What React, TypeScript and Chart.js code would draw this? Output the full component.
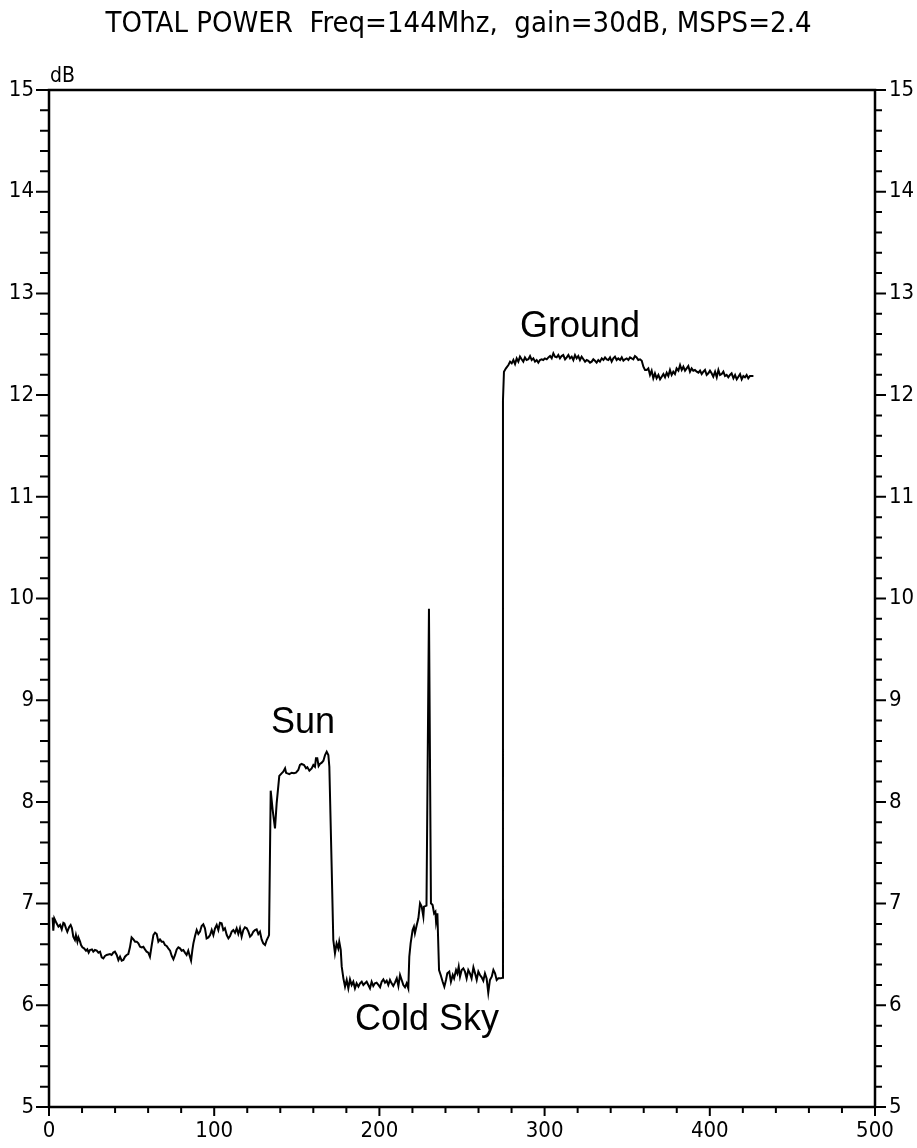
import React, { useEffect, useRef } from 'react';
import { Chart, registerables } from 'chart.js';

Chart.register(...registerables);

// ---- data: [scan position, power dB] ----
const quietSkyScan: [number, number][] = [
  [2.2, 6.865], [2.6, 6.734], [3.2, 6.855], [4.6, 6.806], [5.7, 6.773], [6.7, 6.79], [7.7, 6.747], [8.7, 6.812],
  [9.3, 6.806], [10.3, 6.757], [11.1, 6.724], [12.3, 6.773], [13.1, 6.79], [13.9, 6.757], [14.7, 6.675], [15.7, 6.642],
  [16.3, 6.691], [17.2, 6.626], [17.8, 6.668], [18.8, 6.626], [19.4, 6.593], [20.2, 6.57], [21.2, 6.56], [22.4, 6.537],
  [23.2, 6.55], [24.0, 6.518], [24.8, 6.544], [26.0, 6.55], [26.8, 6.527], [27.8, 6.544], [28.9, 6.537], [29.9, 6.518],
  [30.9, 6.527], [31.9, 6.472], [32.9, 6.462], [33.9, 6.485], [34.9, 6.495], [36.9, 6.504], [37.9, 6.495], [38.9, 6.518],
  [39.9, 6.527], [41.0, 6.495], [42.0, 6.445], [43.0, 6.478], [44.0, 6.439], [45.0, 6.445], [46.0, 6.478], [47.0, 6.495],
  [48.0, 6.504], [49.0, 6.57], [50.0, 6.668], [51.1, 6.648], [52.1, 6.626], [53.1, 6.626], [54.1, 6.609], [55.1, 6.576],
  [56.1, 6.57], [57.1, 6.576], [58.1, 6.55], [59.1, 6.527], [60.1, 6.518], [61.1, 6.478], [62.2, 6.593], [63.2, 6.691],
  [64.2, 6.714], [65.2, 6.701], [66.2, 6.626], [67.2, 6.648], [68.2, 6.626], [69.2, 6.626], [70.2, 6.593], [71.2, 6.583],
  [72.2, 6.56], [73.3, 6.537], [74.3, 6.485], [75.3, 6.452], [76.3, 6.495], [77.3, 6.55], [78.3, 6.57], [79.3, 6.56],
  [80.3, 6.537], [81.3, 6.544], [82.3, 6.518], [83.3, 6.495], [84.3, 6.537], [85.4, 6.472], [86.0, 6.439], [86.8, 6.544],
  [87.4, 6.609], [88.4, 6.681], [89.4, 6.74], [90.4, 6.701], [91.4, 6.724], [92.4, 6.78], [93.4, 6.796], [94.4, 6.757],
  [95.4, 6.658], [96.5, 6.668], [97.5, 6.691], [98.5, 6.74], [99.5, 6.691], [100.5, 6.757], [101.5, 6.79], [102.5, 6.74],
  [103.5, 6.812], [104.5, 6.806], [105.5, 6.74], [106.5, 6.757], [107.6, 6.691], [108.6, 6.658], [109.6, 6.681], [110.6, 6.724],
  [111.6, 6.74], [112.6, 6.714], [113.6, 6.757], [114.6, 6.701], [115.6, 6.757], [116.6, 6.675], [117.6, 6.74], [118.6, 6.767],
  [119.7, 6.757], [120.7, 6.724], [121.7, 6.675], [122.7, 6.691], [123.7, 6.724], [124.7, 6.74], [125.7, 6.747], [126.7, 6.701],
  [127.7, 6.724], [128.7, 6.648], [129.7, 6.609], [130.8, 6.593], [131.8, 6.642], [132.8, 6.675],
];

const sunScan: [number, number][] = [
  [133.2, 6.691], [134.2, 8.11], [135.4, 7.92], [136.8, 7.74], [137.8, 7.986], [139.4, 8.255], [140.8, 8.281], [141.8, 8.297],
  [142.9, 8.33], [143.5, 8.287], [144.3, 8.281], [145.5, 8.274], [146.9, 8.287], [148.3, 8.281], [149.5, 8.287], [150.9, 8.314],
  [151.9, 8.363], [152.9, 8.373], [154.4, 8.363], [155.6, 8.33], [156.4, 8.34], [157.6, 8.307], [159.0, 8.33], [160.0, 8.363],
  [161.0, 8.346], [161.6, 8.428], [162.4, 8.428], [163.2, 8.353], [164.0, 8.373], [165.1, 8.386], [166.1, 8.405], [167.1, 8.461],
  [168.1, 8.494], [169.1, 8.461], [169.7, 8.346], [171.1, 7.363], [172.1, 6.642], [173.1, 6.511], [174.1, 6.609], [175.1, 6.56],
  [175.7, 6.626], [176.6, 6.544], [177.2, 6.38],
];

const coldSkyScan: [number, number][] = [
  [178.2, 6.265], [179.2, 6.183], [180.2, 6.249], [181.2, 6.167], [182.2, 6.255], [183.2, 6.2], [184.2, 6.232], [185.2, 6.167],
  [186.2, 6.216], [187.3, 6.183], [188.3, 6.216], [189.3, 6.232], [190.3, 6.2], [191.3, 6.216], [192.3, 6.232], [193.3, 6.2],
  [194.3, 6.167], [195.3, 6.232], [196.3, 6.19], [197.3, 6.216], [198.3, 6.223], [199.4, 6.2], [200.4, 6.177], [201.4, 6.232],
  [202.4, 6.255], [203.4, 6.223], [204.4, 6.242], [205.4, 6.2], [206.4, 6.249], [207.4, 6.216], [208.4, 6.19], [209.4, 6.223],
  [210.5, 6.265], [211.5, 6.19], [212.5, 6.298], [213.5, 6.249], [214.5, 6.2], [215.5, 6.177], [216.5, 6.216], [217.5, 6.167],
  [218.1, 6.478], [218.9, 6.609], [220.1, 6.74], [220.9, 6.773], [221.5, 6.708], [222.6, 6.79], [223.6, 6.855], [224.6, 7.003],
  [225.6, 6.97], [226.6, 6.872], [227.0, 6.97], [228.5, 6.98], [230.0, 9.9], [231.2, 7.003], [232.2, 6.986], [233.1, 6.904],
  [233.9, 6.921], [234.3, 6.822], [235.1, 6.904], [236.1, 6.347], [237.1, 6.298], [238.3, 6.232], [239.3, 6.183], [240.3, 6.249],
  [241.1, 6.314], [242.3, 6.331], [243.3, 6.232], [244.4, 6.298], [245.2, 6.265], [246.4, 6.347], [247.2, 6.314], [248.0, 6.38],
  [248.8, 6.281], [249.8, 6.347], [250.8, 6.363], [251.8, 6.331], [252.8, 6.265], [253.8, 6.347], [254.8, 6.314], [255.8, 6.265],
  [256.9, 6.373], [257.9, 6.314], [258.9, 6.249], [259.9, 6.331], [260.9, 6.298], [261.9, 6.275], [262.9, 6.242], [263.9, 6.314],
  [264.9, 6.265], [265.9, 6.124], [266.9, 6.249], [268.0, 6.281], [269.0, 6.347], [270.0, 6.314], [271.0, 6.249], [272.0, 6.265],
  [273.4, 6.265],
];

const groundScan: [number, number][] = [
  [274.6, 6.27], [274.8, 11.95], [275.4, 12.23], [276.6, 12.263], [278.1, 12.296], [279.1, 12.329], [280.1, 12.312], [281.1, 12.345],
  [282.1, 12.306], [283.1, 12.361], [284.1, 12.329], [285.1, 12.378], [286.1, 12.352], [287.1, 12.329], [288.1, 12.371], [289.1, 12.345],
  [290.2, 12.352], [291.2, 12.384], [292.2, 12.345], [293.2, 12.361], [294.2, 12.329], [295.2, 12.345], [296.2, 12.319], [297.2, 12.345],
  [298.2, 12.352], [299.2, 12.345], [300.2, 12.361], [301.3, 12.352], [302.3, 12.371], [303.3, 12.384], [304.3, 12.361], [305.3, 12.411],
  [306.3, 12.378], [307.3, 12.371], [308.3, 12.394], [309.3, 12.361], [310.3, 12.384], [311.3, 12.394], [312.4, 12.352], [313.4, 12.371],
  [314.4, 12.394], [315.4, 12.361], [316.4, 12.378], [317.4, 12.345], [318.4, 12.394], [319.4, 12.361], [320.4, 12.384], [321.4, 12.345],
  [322.4, 12.378], [323.5, 12.352], [324.5, 12.329], [325.5, 12.345], [326.5, 12.338], [327.5, 12.319], [328.5, 12.329], [329.5, 12.352],
  [330.5, 12.338], [331.5, 12.319], [332.5, 12.345], [333.5, 12.329], [334.6, 12.361], [335.6, 12.345], [336.6, 12.371], [337.6, 12.352],
  [338.6, 12.345], [339.6, 12.371], [340.6, 12.329], [341.6, 12.361], [342.6, 12.378], [343.6, 12.345], [344.6, 12.361], [345.7, 12.345],
  [346.7, 12.371], [347.7, 12.338], [348.7, 12.352], [349.7, 12.361], [350.7, 12.345], [351.7, 12.371], [352.7, 12.361], [353.7, 12.352],
  [354.7, 12.384], [355.7, 12.371], [356.7, 12.345], [357.8, 12.352], [358.8, 12.338], [359.8, 12.279], [360.8, 12.247], [361.8, 12.247],
  [362.8, 12.263], [363.8, 12.198], [364.8, 12.24], [365.8, 12.165], [366.8, 12.214], [367.8, 12.165], [368.9, 12.198], [369.9, 12.155],
  [370.9, 12.181], [371.9, 12.207], [372.9, 12.175], [373.9, 12.22], [374.9, 12.188], [375.9, 12.247], [376.9, 12.198], [377.9, 12.23],
  [378.9, 12.207], [379.9, 12.263], [381.0, 12.24], [382.0, 12.296], [383.0, 12.247], [384.0, 12.279], [385.0, 12.24], [386.0, 12.263],
  [387.0, 12.286], [388.0, 12.23], [389.0, 12.263], [390.0, 12.24], [391.0, 12.247], [392.1, 12.23], [393.1, 12.22], [394.1, 12.24],
  [395.1, 12.207], [396.1, 12.23], [397.1, 12.247], [398.1, 12.198], [399.1, 12.214], [400.1, 12.24], [401.1, 12.214], [402.1, 12.181],
  [403.2, 12.23], [404.2, 12.175], [405.2, 12.247], [406.2, 12.198], [407.2, 12.207], [408.2, 12.23], [409.2, 12.188], [410.2, 12.198],
  [411.2, 12.175], [412.2, 12.198], [413.2, 12.214], [414.3, 12.165], [415.3, 12.198], [416.3, 12.155], [417.3, 12.181], [418.3, 12.207],
  [419.3, 12.155], [420.3, 12.188], [421.3, 12.175], [422.3, 12.198], [423.3, 12.165], [424.3, 12.188], [425.3, 12.188], [426.4, 12.188],
];

const annotationTexts = ['Sun', 'Cold Sky', 'Ground'];
const annotationX = [153.7, 228.8, 321.4];
const annotationDb = [8.675, 5.754, 12.57];

const titleText = 'TOTAL POWER  Freq=144Mhz,  gain=30dB, MSPS=2.4';
const yUnitText = 'dB';
const xRange = [0, 500];
const yRange = [5, 15];

const CONDENSED = "'DejaVu Sans Condensed', 'DejaVu Sans', sans-serif";
const ARIAL = "'Liberation Sans', Arial, sans-serif";

const framePlugin = {
  id: 'framePlugin',
  afterDraw(chart: any) {
    const { ctx, chartArea: a, scales } = chart;
    const xs = scales.x;
    const ys = scales.y;
    ctx.save();
    ctx.strokeStyle = '#000';
    ctx.lineWidth = 2.5;
    ctx.strokeRect(a.left, a.top, a.right - a.left, a.bottom - a.top);
    ctx.lineWidth = 2;
    ctx.beginPath();
    for (let i = 0; i <= 50; i++) {
      const v = yRange[0] + i * 0.2;
      const py = ys.getPixelForValue(v);
      const major = i % 5 === 0;
      ctx.moveTo(a.left - (major ? 13 : 9), py);
      ctx.lineTo(a.left, py);
      ctx.moveTo(a.right, py);
      ctx.lineTo(a.right + (major ? 11 : 7), py);
    }
    for (let i = 0; i <= 25; i++) {
      const v = xRange[0] + i * 20;
      const px = xs.getPixelForValue(v);
      const major = i % 5 === 0;
      ctx.moveTo(px, a.bottom);
      ctx.lineTo(px, a.bottom + (major ? 9 : 6));
    }
    ctx.stroke();

    ctx.fillStyle = '#000';
    ctx.textAlign = 'center';
    ctx.textBaseline = 'alphabetic';
    ctx.font = `29px ${CONDENSED}`;
    ctx.fillText(titleText, 458.5, 32);

    ctx.textAlign = 'left';
    ctx.font = `21px ${CONDENSED}`;
    ctx.fillText(yUnitText, a.left + 1, a.top - 8);

    ctx.textAlign = 'center';
    ctx.font = `36px ${ARIAL}`;
    annotationTexts.forEach((t, i) => {
      ctx.fillText(t, xs.getPixelForValue(annotationX[i]), ys.getPixelForValue(annotationDb[i]));
    });
    ctx.restore();
  },
};

export default function App() {
  const ref = useRef<HTMLCanvasElement | null>(null);
  useEffect(() => {
    if (!ref.current) return;
    const points = [...quietSkyScan, ...sunScan, ...coldSkyScan, ...groundScan].map(([x, y]) => ({ x, y }));
    const tickFont = { family: CONDENSED, size: 22 };
    const chart = new Chart(ref.current, {
      type: 'line',
      data: {
        datasets: [
          {
            data: points,
            borderColor: '#000',
            borderWidth: 2,
            pointRadius: 0,
            tension: 0,
            fill: false,
          },
        ],
      },
      options: {
        responsive: false,
        animation: false,
        events: [],
        layout: { padding: { top: 90, left: 0, right: 0, bottom: 0 } },
        plugins: { legend: { display: false }, tooltip: { enabled: false }, title: { display: false } },
        scales: {
          x: {
            type: 'linear',
            position: 'bottom',
            min: xRange[0],
            max: xRange[1],
            ticks: { stepSize: 100, autoSkip: false, maxRotation: 0, padding: 11, color: '#000', font: tickFont },
            grid: { display: false, drawTicks: false },
            border: { display: false },
            afterFit(s: any) { s.height = 41; },
          },
          y: {
            type: 'linear',
            position: 'left',
            min: yRange[0],
            max: yRange[1],
            ticks: { stepSize: 1, padding: 15, color: '#000', font: tickFont },
            grid: { display: false, drawTicks: false },
            border: { display: false },
            afterFit(s: any) { s.width = 49; },
          },
          y2: {
            type: 'linear',
            display: true,
            position: 'right',
            min: yRange[0],
            max: yRange[1],
            ticks: { stepSize: 1, padding: 14, color: '#000', font: tickFont },
            grid: { display: false, drawTicks: false },
            border: { display: false },
            afterFit(s: any) { s.width = 42; },
          },
        },
      } as any,
      plugins: [framePlugin],
    });
    return () => chart.destroy();
  }, []);
  return (
    <div style={{ position: 'absolute', left: 0, top: 0, width: 917, height: 1148, background: '#fff' }}>
      <canvas ref={ref} width={917} height={1148} />
    </div>
  );
}
